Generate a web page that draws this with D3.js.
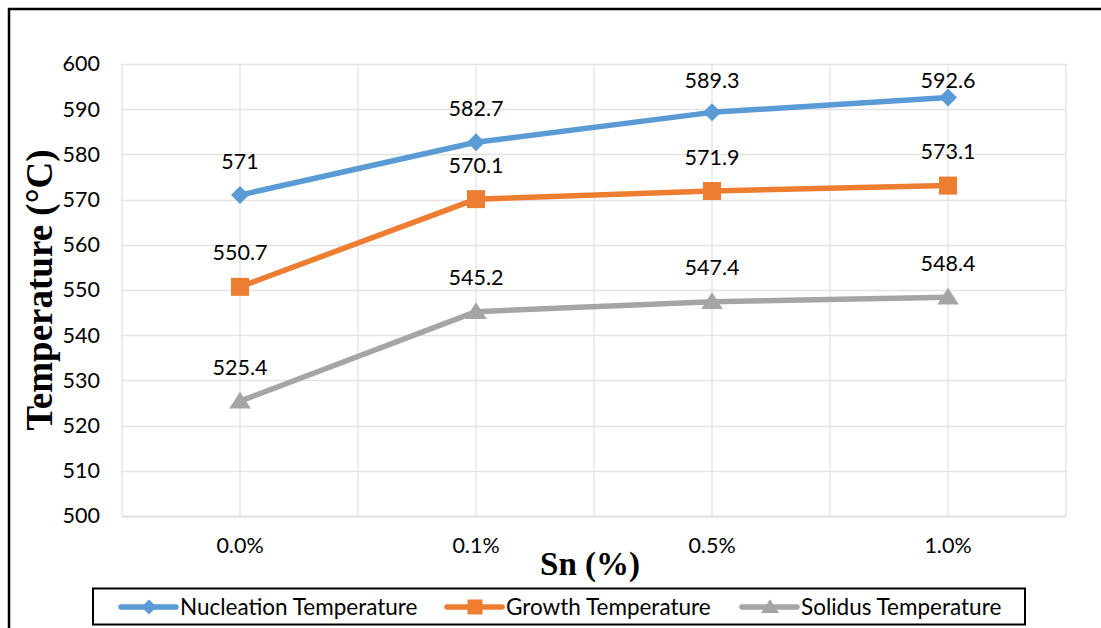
<!DOCTYPE html>
<html>
<head>
<meta charset="utf-8">
<script src="https://cdn.jsdelivr.net/npm/d3@7"></script>
<style>
  html, body { margin: 0; padding: 0; background: #fff; }
  svg { display: block; }
</style>
</head>
<body>
<svg id="chart" width="1101" height="628"></svg>
<script>
// Sn addition levels and the three measured temperatures (°C)
const categories = ["0.0%", "0.1%", "0.5%", "1.0%"];
const nucleation = [571, 582.7, 589.3, 592.6];
const growth = [550.7, 570.1, 571.9, 573.1];
const solidus = [525.4, 545.2, 547.4, 548.4];
const yTicks = [500, 510, 520, 530, 540, 550, 560, 570, 580, 590, 600];
const seriesNames = ["Nucleation Temperature", "Growth Temperature", "Solidus Temperature"];

const series = [
  { name: seriesNames[0], values: nucleation, color: "#5B9BD5", marker: "diamond" },
  { name: seriesNames[1], values: growth, color: "#ED7D31", marker: "square" },
  { name: seriesNames[2], values: solidus, color: "#A5A5A5", marker: "triangle" }
];

const svg = d3.select("#chart");
const W = 1101, H = 628;
const plot = { left: 122, right: 1066, top: 64, bottom: 516 };
const numFont = "Lato, 'Open Sans', 'Liberation Sans', sans-serif";
const serif = "'Liberation Serif', 'Times New Roman', serif";

// outer frame
svg.append("path")
  .attr("d", `M9,${H + 5} L9,9 L${W + 5},9`)
  .attr("fill", "none").attr("stroke", "#000").attr("stroke-width", 2.5);

const x = d3.scaleBand().domain(categories).range([plot.left, plot.right]).paddingInner(0).paddingOuter(0);
const cx = c => x(c) + x.bandwidth() / 2;
const y = d3.scaleLinear().domain([500, 600]).range([plot.bottom, plot.top]);

// gridlines
const grid = svg.append("g").attr("stroke", "#e3e3e3").attr("stroke-width", 1.3);
yTicks.forEach(t => {
  grid.append("line").attr("x1", plot.left).attr("x2", plot.right)
    .attr("y1", Math.round(y(t)) + 0.5).attr("y2", Math.round(y(t)) + 0.5);
});
const vLines = [];
categories.forEach(c => { vLines.push(x(c)); vLines.push(cx(c)); });
vLines.push(plot.right);
vLines.forEach(v => {
  grid.append("line").attr("x1", v).attr("x2", v).attr("y1", plot.top).attr("y2", plot.bottom);
});
grid.append("line").attr("x1", plot.left).attr("x2", plot.right)
  .attr("y1", plot.bottom + 0.5).attr("y2", plot.bottom + 0.5).attr("stroke", "#d9d9d9");

// y axis labels
const yAxis = svg.append("g").attr("transform", `translate(${plot.left - 22},0)`)
  .call(d3.axisLeft(y).tickValues(yTicks).tickSize(0).tickPadding(0).tickFormat(d3.format("d")));
yAxis.select(".domain").remove();
yAxis.selectAll("text").attr("font-family", numFont).attr("font-size", 21.5).attr("fill", "#000");

// x axis labels
const xAxis = svg.append("g").attr("transform", `translate(0,${plot.bottom + 22})`)
  .call(d3.axisBottom(x).tickSize(0).tickPadding(0));
xAxis.select(".domain").remove();
xAxis.selectAll("text").attr("font-family", numFont).attr("font-size", 21.5).attr("fill", "#000")
  .attr("dy", "0.71em");

// axis titles
svg.append("text")
  .attr("transform", `translate(52,${(plot.top + plot.bottom) / 2}) rotate(-90)`)
  .attr("text-anchor", "middle")
  .attr("font-family", serif)
  .attr("font-weight", "bold").attr("font-size", 37)
  .text("Temperature (°C)");
svg.append("text")
  .attr("x", 590).attr("y", 575)
  .attr("text-anchor", "middle")
  .attr("font-family", serif)
  .attr("font-weight", "bold").attr("font-size", 33)
  .text("Sn (%)");

// marker shapes
function markerPath(type, s) {
  if (type === "diamond") return `M0,${-s} L${s},0 L0,${s} L${-s},0 Z`;
  if (type === "square") return `M${-s},${-s} L${s},${-s} L${s},${s} L${-s},${s} Z`;
  return `M0,${-s * 1.05} L${s * 1.2},${s * 0.8} L${-s * 1.2},${s * 0.8} Z`;
}

const line = d3.line().x((d, i) => cx(categories[i])).y(d => y(d));

series.forEach(s => {
  const g = svg.append("g");
  g.append("path").datum(s.values)
    .attr("d", line).attr("fill", "none")
    .attr("stroke", s.color).attr("stroke-width", 5.5).attr("stroke-linejoin", "round");
  g.selectAll("path.m").data(s.values).enter().append("path")
    .attr("class", "m")
    .attr("transform", (d, i) => `translate(${cx(categories[i])},${y(d)})`)
    .attr("d", markerPath(s.marker, 9))
    .attr("fill", s.color);
  g.selectAll("text").data(s.values).enter().append("text")
    .attr("x", (d, i) => cx(categories[i]))
    .attr("y", d => Math.max(y(d) - 34, plot.top + 16))
    .attr("dy", "0.35em")
    .attr("text-anchor", "middle")
    .attr("font-family", numFont).attr("font-size", 21.5).attr("fill", "#000")
    .text(d => d);
});

// legend
const lg = svg.append("g");
lg.append("rect").attr("x", 93).attr("y", 588.5).attr("width", 932).attr("height", 36)
  .attr("fill", "#fff").attr("stroke", "#000").attr("stroke-width", 2);
const legendX = [121, 447, 742];
series.forEach((s, i) => {
  const lx = legendX[i], ly = 607;
  lg.append("line").attr("x1", lx).attr("x2", lx + 55).attr("y1", ly).attr("y2", ly)
    .attr("stroke", s.color).attr("stroke-width", 5.5).attr("stroke-linecap", "round");
  lg.append("path").attr("transform", `translate(${lx + 28},${ly})`)
    .attr("d", markerPath(s.marker, 7.5)).attr("fill", s.color);
  lg.append("text").attr("x", lx + 59).attr("y", ly).attr("dy", "0.36em")
    .attr("font-family", numFont).attr("font-size", 22.5).attr("fill", "#000")
    .text(s.name);
});
</script>
</body>
</html>
